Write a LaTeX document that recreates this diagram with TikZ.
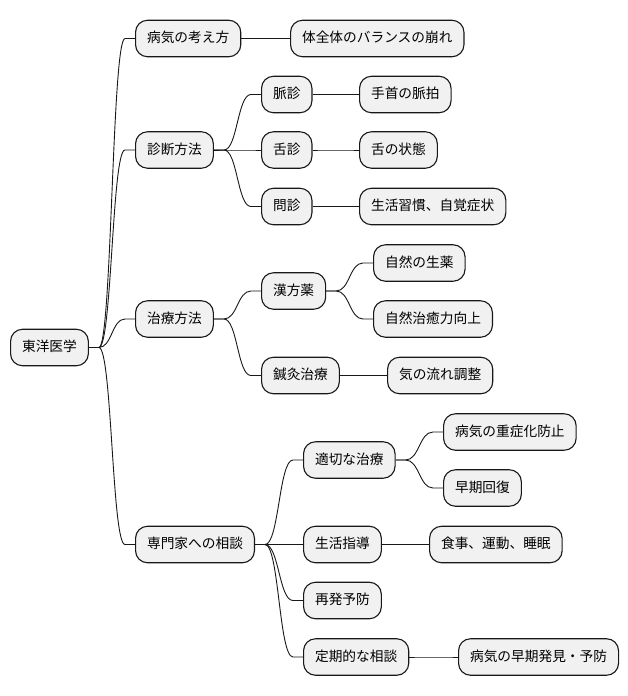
\documentclass[tikz,border=0pt]{standalone}
\usepackage{fontspec}
\setmainfont{Noto Sans CJK JP}
\usetikzlibrary{calc}
\definecolor{boxfill}{HTML}{F1F1F1}
\definecolor{boxline}{HTML}{181818}
\tikzset{
  mm/.style={draw=boxline, fill=boxfill, line width=1.1pt, rounded corners=12pt,
    anchor=west, inner xsep=11.5pt, inner ysep=0pt, minimum height=36.5pt,
    font=\fontsize{13.7pt}{16pt}\selectfont, text height=10.5pt, text depth=2.5pt},
  link/.style={draw=boxline, line width=0.9pt}
}
\newcommand{\mmlink}[2]{%
  \draw[link] let \p1=(#1.east), \p2=(#2.west) in
    (\p1) -- (\x1+10pt,\y1) .. controls ({(\x1+\x2)/2},\y1) and ({(\x1+\x2)/2},\y2) .. (\x2-10pt,\y2) -- (\p2);}
\begin{document}
\begin{tikzpicture}[x=1pt,y=1pt]
\useasboundingbox (0,0) rectangle (628,-696);
\node[mm] (root) at (10,-347.5) {東洋医学};
\node[mm] (a) at (135,-38.5) {病気の考え方};
\node[mm] (a1) at (290,-38.5) {体全体のバランスの崩れ};
\node[mm] (b) at (135,-150) {診断方法};
\node[mm] (b1) at (261,-94.5) {脈診};
\node[mm] (b1a) at (359,-94.5) {手首の脈拍};
\node[mm] (b2) at (261,-150) {舌診};
\node[mm] (b2a) at (359,-150) {舌の状態};
\node[mm] (b3) at (261,-206.5) {問診};
\node[mm] (b3a) at (359,-206.5) {生活習慣、自覚症状};
\node[mm] (c) at (135,-319) {治療方法};
\node[mm] (c1) at (261,-291) {漢方薬};
\node[mm] (c1a) at (373,-263) {自然の生薬};
\node[mm] (c1b) at (373,-319) {自然治癒力向上};
\node[mm] (c2) at (261,-375.5) {鍼灸治療};
\node[mm] (c2a) at (387,-375.5) {気の流れ調整};
\node[mm] (d) at (135,-544.5) {専門家への相談};
\node[mm] (d1) at (303,-460) {適切な治療};
\node[mm] (d1a) at (443,-432) {病気の重症化防止};
\node[mm] (d1b) at (443,-488) {早期回復};
\node[mm] (d2) at (303,-544.5) {生活指導};
\node[mm] (d2a) at (429,-544.5) {食事、運動、睡眠};
\node[mm] (d3) at (303,-600.5) {再発予防};
\node[mm] (d4) at (303,-657) {定期的な相談};
\node[mm] (d4a) at (458,-657) {病気の早期発見・予防};
\mmlink{root}{a}
\mmlink{root}{b}
\mmlink{root}{c}
\mmlink{root}{d}
\mmlink{a}{a1}
\mmlink{b}{b1}
\mmlink{b}{b2}
\mmlink{b}{b3}
\mmlink{b1}{b1a}
\mmlink{b2}{b2a}
\mmlink{b3}{b3a}
\mmlink{c}{c1}
\mmlink{c}{c2}
\mmlink{c1}{c1a}
\mmlink{c1}{c1b}
\mmlink{c2}{c2a}
\mmlink{d}{d1}
\mmlink{d}{d2}
\mmlink{d}{d3}
\mmlink{d}{d4}
\mmlink{d1}{d1a}
\mmlink{d1}{d1b}
\mmlink{d2}{d2a}
\mmlink{d4}{d4a}
\end{tikzpicture}
\end{document}
